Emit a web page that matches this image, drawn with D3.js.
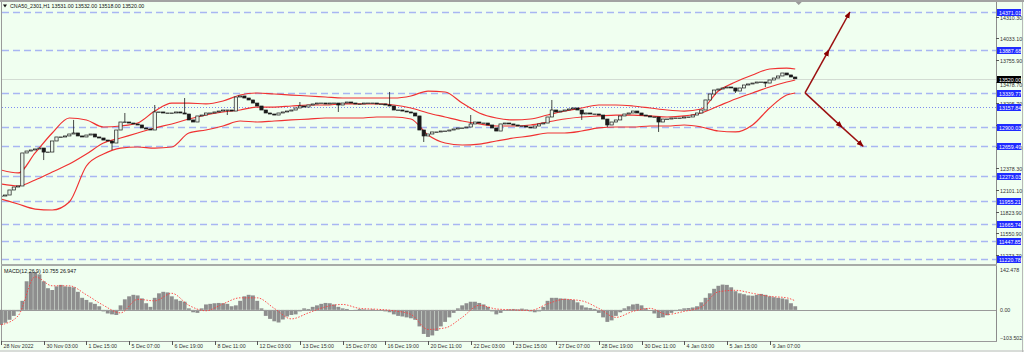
<!DOCTYPE html>
<html><head><meta charset="utf-8">
<script src="https://cdn.jsdelivr.net/npm/d3@7"></script>
<style>
html,body{margin:0;padding:0;background:#f0fff0;}
svg{display:block;font-family:"Liberation Sans",Arial,sans-serif;}
</style></head><body>
<svg id="chart" width="1024" height="352"></svg>
<script>
// ---- data ----
var symbolTitle = "CNA50_2301,H1  13531.00 13532.00 13518.00 13520.00";
var macdTitle = "MACD(12,26,9) 10.755 26.947";
var lastPrice = 13520.00;

var timeLabels = ["28 Nov 2022","30 Nov 03:00","1 Dec 15:00","5 Dec 07:00","6 Dec 19:00","8 Dec 11:00",
  "12 Dec 03:00","13 Dec 15:00","15 Dec 07:00","16 Dec 19:00","20 Dec 11:00","22 Dec 03:00",
  "23 Dec 15:00","27 Dec 07:00","28 Dec 19:00","30 Dec 11:00","4 Jan 03:00","5 Jan 15:00","9 Jan 07:00"];
var barsPerLabel = 10;

var priceTicks = [14310.30,14033.10,13755.90,13478.70,13205.70,12928.50,12651.30,12378.30,12101.10,11823.90,11550.90,11273.70];
var levels = [14371.01,13887.68,13339.77,13157.84,12900.03,12659.49,12273.03,11955.21,11665.74,11447.85,11220.78];
var dottedLevel = 13157.84;

var closes = [12024,12037,12101,12139,12152,12573,12598,12611,12624,12636,
  12585,12585,12726,12777,12777,12790,12815,12828,12790,12777,
  12802,12815,12777,12764,12738,12726,12700,12866,12968,12968,
  12955,12943,12930,12892,12879,12866,13096,13096,13083,13083,
  13083,13096,13083,13070,12994,12968,13045,13057,13083,13083,
  13096,13108,13121,13121,13108,13287,13300,13274,13249,13210,
  13172,13121,13083,13070,13057,13083,13096,13108,13121,13147,
  13172,13159,13185,13198,13210,13210,13198,13210,13210,13185,
  13210,13223,13210,13198,13198,13210,13210,13210,13198,13198,
  13185,13172,13121,13121,13108,13096,13083,13045,12866,12790,
  12815,12841,12841,12853,12853,12866,12879,12892,12892,12904,
  12943,12968,12955,12955,12930,12892,12853,12943,12955,12943,
  12930,12917,12917,12904,12892,12917,12943,12955,13032,13121,
  13096,13108,13121,13134,13147,13121,13070,13083,13070,13070,
  13057,13006,12930,12968,12994,13045,13070,13083,13108,13083,
  13057,13045,13032,13032,12968,13006,13006,13019,13019,13019,
  13032,13032,13057,13083,13121,13249,13325,13376,13389,13402,
  13414,13402,13363,13402,13440,13453,13465,13478,13478,13465,
  13504,13529,13555,13593,13568,13542,13520];
var wickHigh = [[17,12994],[29,13083],[36,13185],[43,13274],[70,13223],[91,13351],[110,13057],[129,13249]];
var wickLow = [[0,11973],[10,12483],[26,12611],[53,13057],[79,13096],[99,12713],[136,12994],[142,12904],[154,12841],[172,13338],[179,13414]];

var bandBars = [0,4,8,12,16,20,24,28,32,36,40,44,48,52,56,60,64,68,72,76,80,84,88,92,96,100,
  104,108,112,116,120,124,128,132,136,140,144,148,152,156,160,164,168,172,176,180,184,186];
var bandUpper = [12356,12318,12573,12828,13019,12994,12904,12917,12955,13108,13210,13210,13198,13236,
  13312,13338,13325,13312,13300,13287,13274,13274,13274,13274,13300,13363,13351,13210,13083,13019,
  12994,13006,13057,13108,13147,13185,13185,13172,13147,13121,13108,13134,13363,13478,13568,13644,13656,13644];
var bandMiddle = [12177,12152,12228,12330,12432,12560,12700,12764,12828,12892,12943,13006,13057,13096,
  13121,13159,13159,13172,13185,13185,13198,13198,13198,13185,13147,13083,13032,12981,12943,12917,
  12917,12930,12968,13006,13032,13045,13057,13057,13045,13032,13045,13083,13172,13261,13338,13414,13478,13504];
var bandLower = [11986,11922,11858,11846,11948,12407,12560,12636,12649,12636,12649,12828,12866,12917,
  12981,12968,12981,12994,13006,13019,13019,13019,13032,13032,13006,12802,12700,12675,12687,12726,
  12764,12790,12828,12828,12853,12892,12904,12904,12917,12917,12930,12904,12853,12841,12930,13147,13312,13338];

var macdHist = [-50,-43,-33,-20,-5,30,95,125,126,118,95,72,66,78,83,78,77,75,60,40,
  33,25,20,12,-5,-12,-15,-17,15,35,45,50,48,38,22,10,40,55,60,58,
  45,35,30,27,5,-8,-10,5,18,20,22,23,22,20,12,15,30,45,50,48,
  30,5,-20,-30,-38,-42,-32,-22,-17,-15,-5,5,3,10,15,20,23,22,18,10,
  5,3,0,-2,3,2,1,2,0,-3,-5,-8,-15,-20,-22,-25,-28,-33,-55,-80,
  -90,-85,-70,-55,-40,-25,-10,5,15,22,27,27,23,18,10,-5,-15,-10,-2,2,
  3,2,4,2,-5,-8,-5,10,30,40,40,38,37,35,33,25,15,8,6,3,
  -10,-25,-40,-35,-20,-8,5,12,18,20,15,5,0,-12,-27,-25,-18,-10,-4,2,
  5,6,8,12,25,40,55,70,80,84,83,75,62,55,52,48,47,50,53,50,
  45,42,40,38,35,22,12];
var macdSignal = [-50,-20,110,80,80,50,15,-10,35,30,55,15,-3,20,40,40,5,-30,-10,10,18,5,2,-3,-15,-65,
  -60,-25,15,3,0,-2,20,35,30,5,-25,-5,5,-15,-5,10,60,65,55,45,40,30];

// trend arrows: [bar, price] points, drawn as segments with heads
var arrowUp = [[188.3,13339.77],[193.9,13887.68],[198.8,14371.01]];
var arrowDown = [[188.3,13339.77],[197.0,12900.03],[201.9,12659.49]];

// ---- scales ----
var W = 1024, H = 352;
var plotRight = 996;
var svg = d3.select("#chart");
var x = d3.scaleLinear().domain([0, timeLabels.length*barsPerLabel - barsPerLabel]).range([1, 769.6]);
var y = d3.scaleLinear().domain([11220.78, 14371.01]).range([259, 12]);
var ym = d3.scaleLinear().domain([-103.502, 142.478]).range([341, 267]);
var step = x(1) - x(0);

svg.append("rect").attr("width", W).attr("height", H).attr("fill", "#f0fff0");

var defs = svg.append("defs");
defs.append("clipPath").attr("id","mainClip").append("rect").attr("x",2).attr("y",2).attr("width",plotRight-2).attr("height",262);
defs.append("marker").attr("id","head").attr("viewBox","0 0 10 8").attr("refX",9).attr("refY",4)
  .attr("markerWidth",7).attr("markerHeight",6).attr("markerUnits","userSpaceOnUse").attr("orient","auto")
  .append("path").attr("d","M0,0 L10,4 L0,8 z").attr("fill","#8b0000");

var main = svg.append("g").attr("clip-path","url(#mainClip)");

// levels
main.selectAll("line.level").data(levels).enter().append("line")
  .attr("class","level")
  .attr("x1",2).attr("x2",plotRight)
  .attr("y1",function(d){ return Math.round(y(d))+0.5; })
  .attr("y2",function(d){ return Math.round(y(d))+0.5; })
  .attr("stroke",function(d){ return d==dottedLevel ? "#7d8cf0" : "#a8b6f2"; })
  .attr("stroke-width",function(d){ return d==dottedLevel ? 1 : 1.3; })
  .attr("stroke-dasharray",function(d){ return d==dottedLevel ? "1,2" : "7,4"; });

// current price line
main.append("line").attr("x1",2).attr("x2",plotRight)
  .attr("y1",Math.round(y(lastPrice))+0.5).attr("y2",Math.round(y(lastPrice))+0.5)
  .attr("stroke","#d3dcd3").attr("stroke-width",1.2);

// bollinger bands
var bandLine = d3.line().x(function(d){ return x(d[0]); }).y(function(d){ return y(d[1]); }).curve(d3.curveMonotoneX);
[bandUpper, bandMiddle, bandLower].forEach(function(band){
  main.append("path")
    .datum(bandBars.map(function(b,i){ return [b, band[i]]; }))
    .attr("d", bandLine).attr("fill","none").attr("stroke","#f03232").attr("stroke-width",1.2);
});

// candles
var candles = closes.map(function(c,i){
  var o = i>0 ? closes[i-1] : c;
  var hi = Math.max(o,c), lo = Math.min(o,c);
  wickHigh.forEach(function(w){ if(w[0]==i) hi = Math.max(hi,w[1]); });
  wickLow.forEach(function(w){ if(w[0]==i) lo = Math.min(lo,w[1]); });
  return {i:i, o:o, c:c, h:hi, l:lo};
});
var cg = main.append("g");
cg.selectAll("line").data(candles).enter().append("line")
  .attr("x1",function(d){ return x(d.i); }).attr("x2",function(d){ return x(d.i); })
  .attr("y1",function(d){ return y(d.h); }).attr("y2",function(d){ return y(d.l); })
  .attr("stroke","#1a1a1a").attr("stroke-width",0.8);
cg.selectAll("rect").data(candles).enter().append("rect")
  .attr("x",function(d){ return x(d.i)-step*0.38; })
  .attr("width",step*0.76)
  .attr("y",function(d){ return y(Math.max(d.o,d.c)); })
  .attr("height",function(d){ return Math.max(0.5, Math.abs(y(d.o)-y(d.c))); })
  .attr("fill",function(d){ return d.c>=d.o ? "#eaf6ea" : "#1a1a1a"; })
  .attr("stroke","#1a1a1a").attr("stroke-width",0.7);

// arrows
[arrowUp, arrowDown].forEach(function(pts){
  for(var k=0;k<pts.length-1;k++){
    svg.append("line")
      .attr("x1",x(pts[k][0])).attr("y1",y(pts[k][1]))
      .attr("x2",x(pts[k+1][0])).attr("y2",y(pts[k+1][1]))
      .attr("stroke","#9b1010").attr("stroke-width",1.5)
      .attr("marker-end","url(#head)");
  }
});

// frame
svg.append("rect").attr("x",0).attr("y",0).attr("width",W).attr("height",2).attr("fill","#a3a3a3");
svg.append("line").attr("x1",1.5).attr("x2",1.5).attr("y1",2).attr("y2",342).attr("stroke","#9a9a9a");
svg.append("line").attr("x1",plotRight+0.5).attr("x2",plotRight+0.5).attr("y1",2).attr("y2",342).attr("stroke","#8c8c8c");
svg.append("rect").attr("x",1).attr("y",264).attr("width",plotRight).attr("height",2).attr("fill","#a8aca8");
svg.append("line").attr("x1",1).attr("x2",plotRight+1).attr("y1",341.5).attr("y2",341.5).attr("stroke","#9a9a9a");
svg.append("rect").attr("x",0).attr("y",350).attr("width",W).attr("height",2).attr("fill","#d8dcd8");
svg.append("line").attr("x1",1022.5).attr("x2",1022.5).attr("y1",2).attr("y2",352).attr("stroke","#b8b8b8");
// chart shift marker
svg.append("path").attr("d","M"+(x(186)+0.5)+",2 l3,3 l3,-3 z").attr("fill","#9a9a9a");

// title
svg.append("path").attr("d","M3,4.5 l4,0 l-2,3 z").attr("fill","#111");
svg.append("text").attr("x",10).attr("y",7.8).attr("font-size",5.3).attr("fill","#111").text(symbolTitle);

// price axis ticks
var lp = Math.round(y(lastPrice))+0.5;
svg.selectAll("g.ptick").data(priceTicks).enter().append("g").attr("class","ptick").each(function(d){
  var g = d3.select(this), yy = Math.round(y(d))+0.5;
  var ty = Math.abs(yy-lp) < 5 ? lp+7.6 : yy+2;
  g.append("line").attr("x1",plotRight).attr("x2",plotRight+3).attr("y1",yy).attr("y2",yy).attr("stroke","#555");
  g.append("text").attr("x",plotRight+4).attr("y",ty).attr("font-size",5.3).attr("fill","#333")
    .text(d3.format(".2f")(d));
});

// level labels
svg.selectAll("g.lvl").data(levels).enter().append("g").attr("class","lvl").each(function(d){
  var g = d3.select(this), yy = Math.round(y(d))+0.5;
  g.append("rect").attr("x",plotRight+1).attr("y",yy-3.5).attr("width",24).attr("height",7).attr("fill","#1f2bff");
  g.append("text").attr("x",plotRight+3).attr("y",yy+2).attr("font-size",5.3).attr("fill","#fff").text(d3.format(".2f")(d));
});
svg.append("rect").attr("x",plotRight+1).attr("y",lp-3.5).attr("width",24).attr("height",7).attr("fill","#000");
svg.append("text").attr("x",plotRight+3).attr("y",lp+2).attr("font-size",5.3).attr("fill","#fff").text(d3.format(".2f")(lastPrice));

// MACD
var mg = svg.append("g");
mg.selectAll("rect").data(macdHist).enter().append("rect")
  .attr("x",function(d,i){ return x(i)-step/2+0.2; })
  .attr("width",step-0.4)
  .attr("y",function(d){ return Math.min(ym(d), ym(0)); })
  .attr("height",function(d){ return Math.abs(ym(d)-ym(0)); })
  .attr("fill","#8e8e8e");
mg.append("line").attr("x1",2).attr("x2",plotRight).attr("y1",Math.round(ym(0))+0.5).attr("y2",Math.round(ym(0))+0.5)
  .attr("stroke","#9a9a9a");
mg.append("path")
  .datum(bandBars.map(function(b,i){ return [b, macdSignal[i]]; }))
  .attr("d", d3.line().x(function(d){ return x(d[0]); }).y(function(d){ return ym(d[1]); }).curve(d3.curveMonotoneX))
  .attr("fill","none").attr("stroke","#ff3b3b").attr("stroke-width",0.9).attr("stroke-dasharray","1.5,1.5");
svg.append("text").attr("x",4).attr("y",273).attr("font-size",5.3).attr("fill","#111").text(macdTitle);

[142.478, 0, -103.502].forEach(function(v){
  var yy = v==142.478 ? 271.5 : (v==0 ? ym(0)+2 : 340);
  svg.append("text").attr("x",plotRight+4).attr("y",yy).attr("font-size",5.3).attr("fill","#333")
    .text(v==0 ? "0.00" : d3.format(".3f")(v));
});

// time axis
svg.selectAll("g.tt").data(timeLabels).enter().append("g").attr("class","tt").each(function(d,k){
  var g = d3.select(this), xx = Math.round(x(k*barsPerLabel))+0.5;
  g.append("line").attr("x1",xx).attr("x2",xx).attr("y1",341).attr("y2",345).attr("stroke","#555");
  g.append("text").attr("x",xx+2).attr("y",348).attr("font-size",5.3).attr("fill","#333").text(d);
});
</script></body></html>
